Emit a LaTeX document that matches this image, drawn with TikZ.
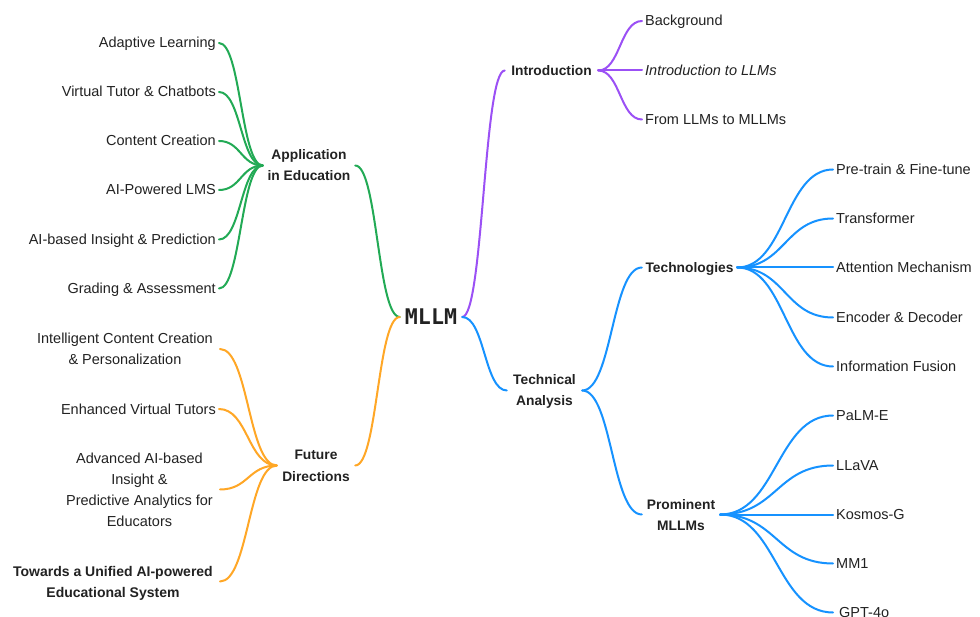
\documentclass[tikz,border=0pt]{standalone}
\usepackage{fontspec}
\setmainfont{Liberation Sans}
\setmonofont{DejaVu Sans Mono}
\usetikzlibrary{calc}
\definecolor{ink}{RGB}{34,34,34}
\definecolor{brgreen}{RGB}{34,170,85}
\definecolor{brpurple}{RGB}{155,80,245}
\definecolor{brblue}{RGB}{22,146,255}
\definecolor{brorange}{RGB}{255,167,38}
\newcommand\leaffont{\fontsize{14.5}{21}\selectfont}
\newcommand\hubfont{\fontsize{13.8}{21}\selectfont\bfseries}
\tikzset{
  leaf/.style={font=\leaffont, text=ink, inner xsep=3pt, inner ysep=0pt,
    text height=13pt, text depth=3pt},
  % multi-line texts: the box baseline is the last line, so the height
  % covers the lines above it
  twolines/.style={text height=34pt, text depth=3pt},
  fourlines/.style={text height=76pt, text depth=3pt},
  mleaf/.style={leaf, align=center, inner xsep=7pt},
  hub/.style={font=\hubfont, text=ink, align=center, inner xsep=0pt,
    inner ysep=0pt, text height=13pt, text depth=3pt},
  lk/.style={line width=2pt, line cap=round},
  % horizontal-tangent cubic, control points at the horizontal midpoint
  link/.style={to path={let \p1=(\tikztostart), \p2=(\tikztotarget) in
    .. controls ({0.5*(\x1+\x2)},\y1) and ({0.5*(\x1+\x2)},\y2) .. (\tikztotarget)}},
}
\begin{document}
\begin{tikzpicture}[x=1pt,y=-1pt]
\fill[white] (0,0) rectangle (980,617);
\useasboundingbox (0,0) rectangle (980,617);

% root
\node[font=\fontsize{21.6}{24}\selectfont\ttfamily\bfseries, text=ink,
  inner sep=0pt, minimum width=62pt] (root) at (431,317) {MLLM};

% main branches
\node[hub, minimum width=93pt] (intro) at (551.5,70.5) {Introduction};
\node[hub, twolines, minimum width=75pt] (tech) at (544.5,390.5) {Technical\\Analysis};
\node[hub, minimum width=95pt] (techn) at (689.5,267.5) {Technologies};
\node[hub, twolines, minimum width=78pt] (prom) at (681,514.5) {Prominent\\MLLMs};
\node[hub, twolines, minimum width=92pt] (app) at (309,165.5) {Application\\in Education};
\node[hub, twolines, minimum width=78pt] (fut) at (316,465.5) {Future\\Directions};

% introduction leaves
\node[leaf, anchor=west] (bg) at (642,21) {Background};
\node[leaf, anchor=west] (itl) at (642,70.5) {\itshape Introduction to LLMs};
\node[leaf, anchor=west] (flm) at (642,119.5) {From LLMs to MLLMs};

% technology leaves
\node[leaf, anchor=west] (ptf) at (833,169.5) {Pre-train \& Fine-tune};
\node[leaf, anchor=west] (trf) at (833,218.5) {Transformer};
\node[leaf, anchor=west] (att) at (833,267.5) {Attention Mechanism};
\node[leaf, anchor=west] (enc) at (833,317.5) {Encoder \& Decoder};
\node[leaf, anchor=west] (inf) at (833,366.5) {Information Fusion};

% model leaves
\node[leaf, anchor=west] (palm) at (833,415.5) {PaLM-E};
\node[leaf, anchor=west] (llava) at (833,465.5) {LLaVA};
\node[leaf, anchor=west] (kos) at (833,514.5) {Kosmos-G};
\node[leaf, anchor=west] (mm1) at (833,563.5) {MM1};
\node[leaf, anchor=west, inner xsep=6pt] (gpt) at (833,612.5) {GPT-4o};

% application leaves
\node[leaf, anchor=east] (al) at (219,43) {Adaptive Learning};
\node[leaf, anchor=east] (vt) at (219,92) {Virtual Tutor \& Chatbots};
\node[leaf, anchor=east] (cc) at (219,141) {Content Creation};
\node[leaf, anchor=east] (lms) at (219,190) {AI-Powered LMS};
\node[leaf, anchor=east] (aip) at (219,239.5) {AI-based Insight \& Prediction};
\node[leaf, anchor=east] (ga) at (219,288.5) {Grading \& Assessment};

% future leaves
\node[mleaf, twolines, anchor=east] (icc) at (220,349) {Intelligent Content Creation\\\& Personalization};
\node[leaf, anchor=east] (evt) at (219,409) {Enhanced Virtual Tutors};
\node[mleaf, fourlines, anchor=east] (adv) at (220,489.5) {Advanced AI-based\\Insight \&\\Predictive Analytics for\\Educators};
\node[mleaf, twolines, anchor=east, font=\fontsize{14}{21}\selectfont\bfseries] (tua) at (220,581.5) {Towards a Unified AI-powered\\Educational System};

% connectors
\draw[lk, brpurple] (root.east) to[link] (intro.west);
\draw[lk, brblue] (root.east) to[link] (tech.west);
\draw[lk, brgreen] (root.west) to[link] (app.east);
\draw[lk, brorange] (root.west) to[link] (fut.east);

\foreach \c in {bg,itl,flm}
  \draw[lk, brpurple] (intro.east) to[link] (\c.west);

\draw[lk, brblue] (tech.east) to[link] (techn.west);
\draw[lk, brblue] (tech.east) to[link] (prom.west);
\foreach \c in {ptf,trf,att,enc,inf}
  \draw[lk, brblue] (techn.east) to[link] (\c.west);
\foreach \c in {palm,llava,kos,mm1,gpt}
  \draw[lk, brblue] (prom.east) to[link] (\c.west);

\foreach \c in {al,vt,cc,lms,aip,ga}
  \draw[lk, brgreen] (app.west) to[link] (\c.east);
\foreach \c in {icc,evt,adv,tua}
  \draw[lk, brorange] (fut.west) to[link] (\c.east);
\end{tikzpicture}
\end{document}
